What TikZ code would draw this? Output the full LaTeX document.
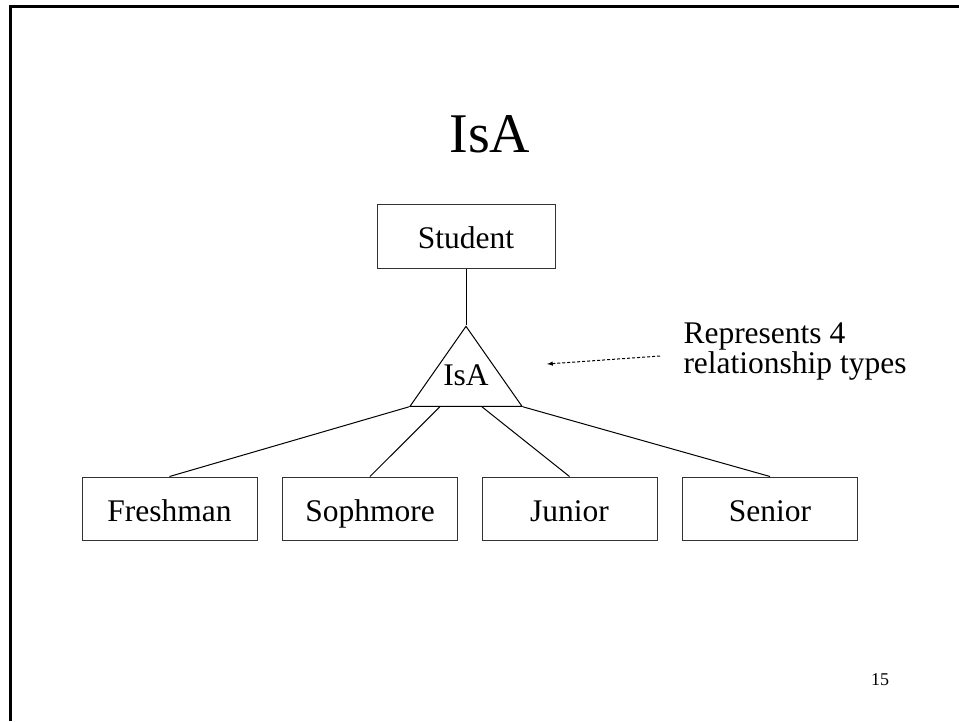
\documentclass[tikz,border=0pt]{standalone}
\usepackage{fontspec}
\setmainfont{Liberation Serif}
\usetikzlibrary{shapes.geometric,calc}

\begin{document}
\begin{tikzpicture}[x=1pt, y=-1pt, >=latex, line width=1pt,
    entity/.style={draw=black!80, rectangle, minimum width=175pt, minimum height=63pt, inner sep=0pt,
                   text height=29pt, text depth=4pt, font=\fontsize{31.5}{36}\selectfont},
    notetext/.style={anchor=base west, inner sep=0pt, align=left, font=\fontsize{31.5}{28}\selectfont}]
    \useasboundingbox (0,0) rectangle (959,721);

    % Slide frame (top and left edges)
    \draw[line width=3pt] (959,6.5) -- (10.5,6.5) -- (10.5,721);

    % Title
    \node[anchor=base, font=\fontsize{56}{64}\selectfont] (title) at (490,152) {IsA};

    % Student box
    \node[entity, minimum width=178pt, minimum height=64pt] (student) at (466,236) {Student};

    % IsA triangle
    \node[draw, isosceles triangle, shape border rotate=90, isosceles triangle stretches,
          minimum width=112pt, minimum height=80pt, inner sep=0pt, anchor=apex] (isa) at (466,325) {};
    \node[anchor=base, inner sep=0pt, font=\fontsize{31.5}{36}\selectfont] (isalabel) at (466,385) {IsA};
    \coordinate (isab) at ($(isa.left corner)!0.27!(isa.right corner)$);
    \coordinate (isac) at ($(isa.left corner)!0.64!(isa.right corner)$);

    % Subclass boxes
    \node[entity] (freshman) at (169.5,508.5) {Freshman};
    \node[entity] (sophmore) at (370,508.5) {Sophmore};
    \node[entity] (junior) at (569.5,508.5) {Junior};
    \node[entity] (senior) at (770,508.5) {Senior};

    % Connectors
    \draw (student.south) -- (isa.apex);
    \draw (isa.left corner) -- (freshman.north);
    \draw (isab) -- (sophmore.north);
    \draw (isac) -- (junior.north);
    \draw (isa.right corner) -- (senior.north);

    % Note with dashed arrow
    \node[notetext] (note) at (683,373) {Represents 4\\relationship types};
    \coordinate (notetail) at (660,356);
    \coordinate (notetip) at (547,364);
    \draw[->, densely dashed] (notetail) -- (notetip);

    % Page number
    \node[anchor=base, font=\fontsize{18}{22}\selectfont] (pagenum) at (880,685) {15};
\end{tikzpicture}
\end{document}
